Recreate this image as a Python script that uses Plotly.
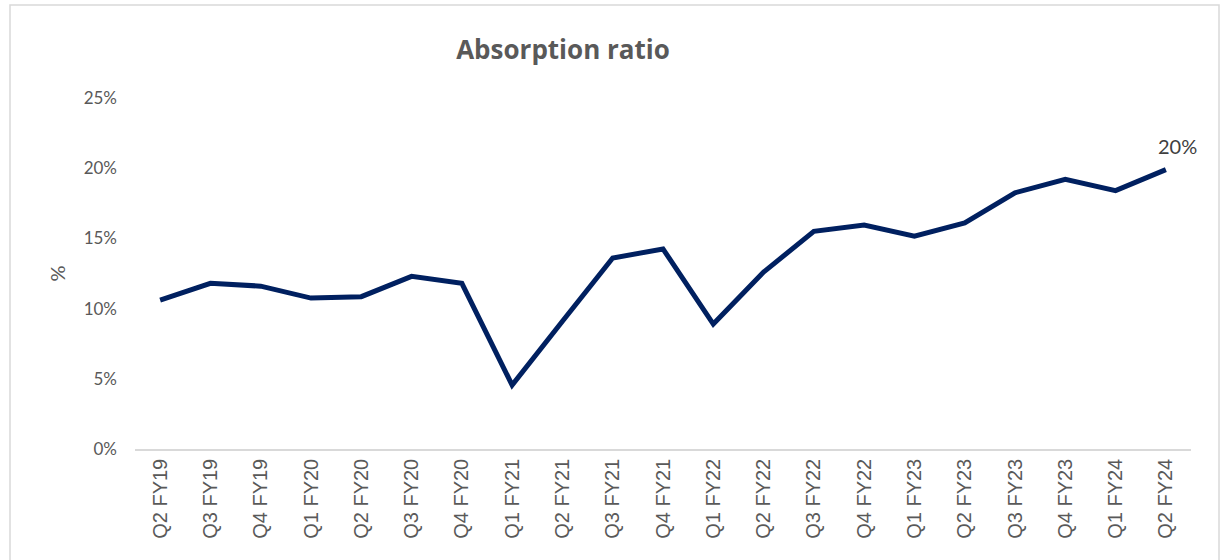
import plotly.graph_objects as go

quarters = ["Q2 FY19", "Q3 FY19", "Q4 FY19", "Q1 FY20", "Q2 FY20", "Q3 FY20", "Q4 FY20",
            "Q1 FY21", "Q2 FY21", "Q3 FY21", "Q4 FY21", "Q1 FY22", "Q2 FY22", "Q3 FY22",
            "Q4 FY22", "Q1 FY23", "Q2 FY23", "Q3 FY23", "Q4 FY23", "Q1 FY24", "Q2 FY24"]
absorption_pct = [10.6, 11.8, 11.6, 10.75, 10.85, 12.3, 11.8,
                  4.55, 9.1, 13.6, 14.25, 8.9, 12.6, 15.5,
                  15.95, 15.15, 16.1, 18.25, 19.2, 18.4, 19.9]
y_ticks = [0, 5, 10, 15, 20, 25]
y_tick_labels = [f"{v}%" for v in y_ticks]

W, H = 1226, 560
ML, MR, MT, MB = 135, 35, 98, 111
pw, ph = W - ML - MR, H - MT - MB

def px_x(p):
    return (p - ML) / pw

def px_y(p):
    return (H - MB - p) / ph

fig = go.Figure()
fig.add_trace(go.Scatter(
    x=quarters, y=absorption_pct, mode="lines",
    line=dict(color="#002060", width=5), hoverinfo="x+y", showlegend=False,
))

last = absorption_pct[-1]
fig.add_annotation(
    x=quarters[-1], y=last, text=f"{round(last)}%", showarrow=False,
    xanchor="center", yanchor="bottom", xshift=12, yshift=10,
    font=dict(family="Lato, Open Sans, sans-serif", size=20, color="#404040"),
)

# outer chart frame
fig.add_shape(type="rect", xref="paper", yref="paper",
              x0=px_x(10), x1=px_x(1219), y0=px_y(575), y1=px_y(5),
              line=dict(color="#d9d9d9", width=1.5), fillcolor="rgba(0,0,0,0)", layer="below")

fig.update_layout(
    width=W, height=H,
    margin=dict(l=ML, r=MR, t=MT, b=MB),
    paper_bgcolor="white", plot_bgcolor="white",
    title=dict(text="<b>Absorption ratio</b>", xref="container", x=563 / W, xanchor="center",
               yref="container", y=1 - 50 / H, yanchor="middle",
               font=dict(family="Open Sans, sans-serif", size=26, color="#595959")),
    xaxis=dict(type="category", tickangle=-90, showgrid=False, showline=True,
               linecolor="#d9d9d9", linewidth=1.5, ticks="",
               tickfont=dict(family="Liberation Sans, Arial, sans-serif", size=20, color="#595959"),
               range=[-0.5, len(quarters) - 0.5]),
    yaxis=dict(range=[0, 25], tickmode="array", tickvals=y_ticks, ticktext=y_tick_labels,
               showgrid=False, zeroline=False, showline=False, ticks="",
               ticklabelstandoff=17,
               tickfont=dict(family="Lato, Open Sans, sans-serif", size=17, color="#595959"),
               title=dict(text="%", standoff=12,
                          font=dict(family="Lato, Open Sans, sans-serif", size=20, color="#595959"))),
)

fig.write_html("out.html")
